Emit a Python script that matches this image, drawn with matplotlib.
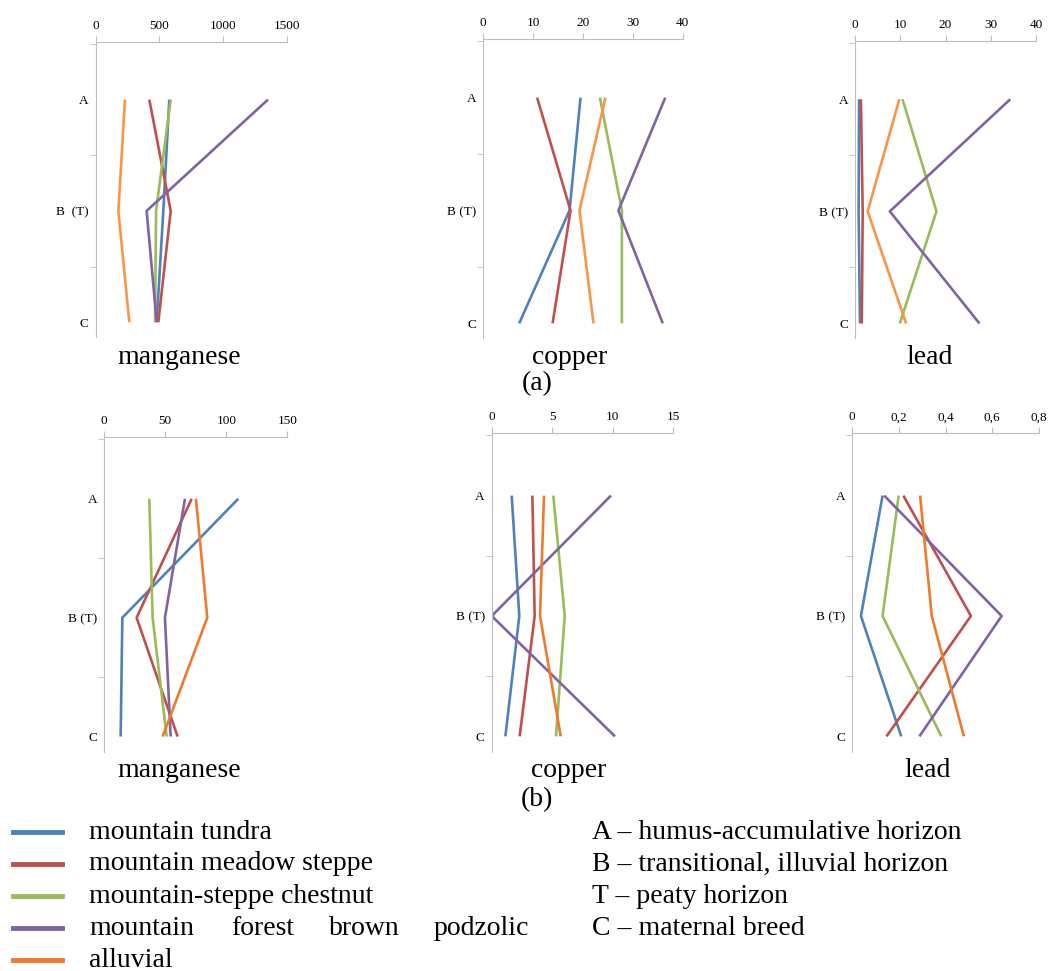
import matplotlib
matplotlib.use("Agg")
import matplotlib.pyplot as plt
from matplotlib.lines import Line2D
from matplotlib.ticker import FuncFormatter

plt.rcParams['font.family'] = ['Liberation Serif', 'DejaVu Serif']

# horizons (top -> bottom)
gorizontai = ["A", "B (T)", "C"]
soils = ["mountain tundra", "mountain meadow steppe", "mountain-steppe chestnut",
         "mountain forest brown podzolic", "alluvial"]
spalvos_a = ["#4F81BD", "#C0504D", "#9BBB59", "#8064A2", "#F79646"]
spalvos_b = ["#4F81BD", "#C0504D", "#9BBB59", "#8064A2", "#EE7A2E"]

# (a) row, values at A, B(T), C
mn_a = [[578, 531, 479], [421, 589, 492], [589, 474, 466], [1353, 400, 479], [230, 178, 264]]
cu_a = [[19.5, 17.3, 7.2], [10.8, 17.5, 13.9], [23.4, 27.8, 27.8], [36.5, 27.1, 36.0], [24.5, 19.3, 22.1]]
pb_a = [[0.9, 0.8, 1.1], [1.3, 1.7, 1.5], [10.5, 18.0, 9.9], [34.3, 7.7, 27.5], [9.8, 2.8, 11.3]]

# (b) row
mn_b = [[109.8, 14.8, 13.4], [71.6, 26.5, 60.1], [36.9, 39.6, 51.1], [66.1, 49.7, 54.4], [75.1, 84.4, 47.8]]
cu_b = [[1.65, 2.28, 1.13], [3.36, 3.55, 2.31], [5.09, 6.03, 5.31], [9.85, 0.0, 10.18], [4.32, 3.99, 5.70]]
pb_b = [[0.130, 0.037, 0.210], [0.219, 0.509, 0.147], [0.199, 0.130, 0.382], [0.137, 0.641, 0.288], [0.291, 0.341, 0.479]]

W, H = 1060, 971
fig = plt.figure(figsize=(W / 100, H / 100), dpi=100)


def panel(x0, x1, top, bottom, data, spalvos, xmax, xstep, title, title_x, title_y, b_label, comma=False):
    ax = fig.add_axes([x0 / W, 1 - bottom / H, (x1 - x0) / W, (bottom - top) / H])
    y = [0, 1, 2]
    for vals, c in zip(data, spalvos):
        ax.plot(vals, y, color=c, lw=1.9, solid_capstyle='butt')
    ax.set_xlim(0, xmax)
    ax.set_ylim(2.13, -0.52)
    ax.set_xticks([i * xstep for i in range(int(round(xmax / xstep)) + 1)])
    if comma:
        ax.xaxis.set_major_formatter(FuncFormatter(lambda v, p: "0" if v == 0 else f"{v:.1f}".replace(".", ",")))
    ax.xaxis.tick_top()
    ax.set_yticks(y)
    ax.set_yticklabels(["A", b_label, "C"])
    ax.set_yticks([-0.5, 0.5, 1.5], minor=True)
    ax.tick_params(axis='y', which='major', length=0, pad=5, labelsize=9.5)
    ax.tick_params(axis='y', which='minor', length=4, color='#BFBFBF')
    ax.tick_params(axis='x', length=4, color='#BFBFBF', labelsize=9.5, pad=3)
    for s in ['right', 'bottom']:
        ax.spines[s].set_visible(False)
    for s in ['left', 'top']:
        ax.spines[s].set_color('#BFBFBF')
    fig.text(title_x / W, 1 - title_y / H, title, ha='center', va='center', fontsize=20)
    return ax


panel(95.7, 286.7, 41.7, 336.7, mn_a, spalvos_a, 1500, 500, "manganese", 179, 357, "B  (T)")
panel(483.3, 682.7, 39, 338, cu_a, spalvos_a, 40, 10, "copper", 570, 357, "B (T)")
panel(855, 1036, 41, 338, pb_a, spalvos_a, 40, 10, "lead", 930, 357, "B (T)")
panel(104.3, 287.3, 437, 752, mn_b, spalvos_b, 150, 50, "manganese", 179, 770, "B (T)")
panel(491.7, 673.3, 433, 752, cu_b, spalvos_b, 15, 5, "copper", 569, 770, "B (T)")
panel(852.3, 1038.7, 433, 752, pb_b, spalvos_b, 0.8, 0.2, "lead", 928, 770, "B (T)", comma=True)

fig.text(537 / W, 1 - 384 / H, "(a)", ha='center', va='center', fontsize=20)
fig.text(537 / W, 1 - 800 / H, "(b)", ha='center', va='center', fontsize=20)

# legend, drawn by hand
eil_y = [832, 864, 896, 928, 960]
for yy, name, c in zip(eil_y, soils, spalvos_b):
    fig.add_artist(Line2D([13 / W, 62 / W], [1 - yy / H, 1 - yy / H], color=c, lw=3.5))
    if name == "mountain forest brown podzolic":
        # justified line in the original
        for word, wx in zip(name.split(), [89, 231, 329, 434]):
            fig.text(wx / W, 1 - yy / H, word, ha='left', va='center', fontsize=20)
    else:
        fig.text(89 / W, 1 - yy / H, name, ha='left', va='center', fontsize=20)

paaiskinimai = ["A – humus-accumulative horizon", "B – transitional, illuvial horizon",
                "T – peaty horizon", "C – maternal breed"]
for yy, t in zip(eil_y, paaiskinimai):
    fig.text(592 / W, 1 - yy / H, t, ha='left', va='center', fontsize=20)

fig.savefig("out.png", dpi=100, facecolor='white')
